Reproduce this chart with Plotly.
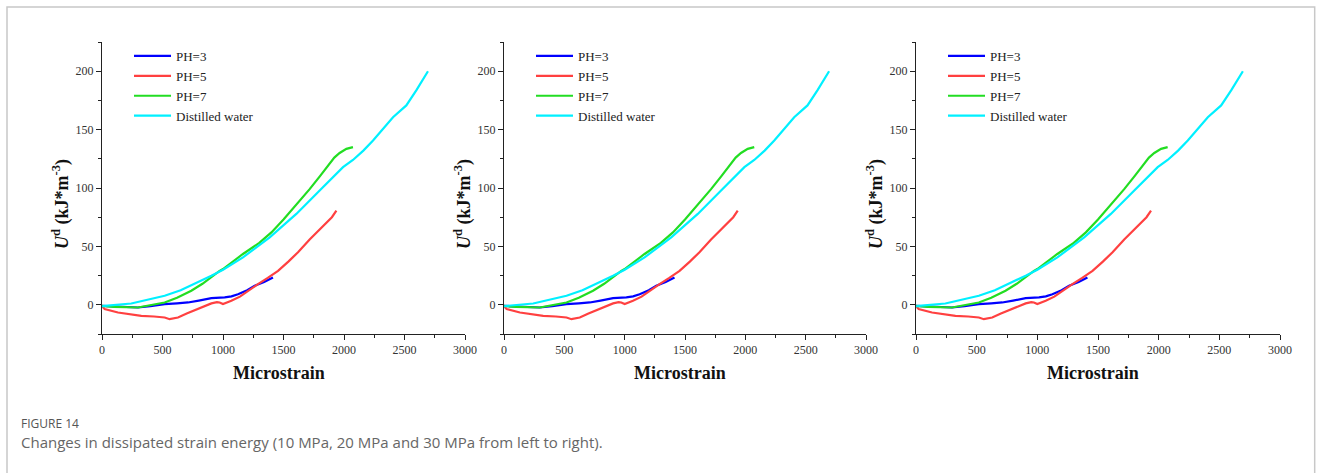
import plotly.graph_objects as go

# ---- data (same curves shown in all three panels) ----
strain_ph3 = [0, 150, 297, 400, 518, 620, 711, 800, 904, 1014, 1070, 1124, 1200, 1262, 1340, 1413]
ud_ph3 = [-1.0, -1.5, -2.3, -1.2, 0.6, 1.3, 2.0, 3.6, 5.7, 6.3, 7.2, 9.1, 12.5, 16.3, 19.5, 23.4]

strain_ph5 = [0, 22, 132, 230, 325, 430, 518, 559, 600, 628, 700, 793, 850, 904, 950, 972, 1000,
              1069, 1140, 1207, 1289, 1370, 1455, 1540, 1620, 1716, 1790, 1854, 1900, 1937]
ud_ph5 = [-1.0, -3.7, -6.6, -8.2, -9.4, -10.0, -10.9, -12.3, -11.5, -10.9, -7.5, -3.7, -1.0, 1.2,
          2.3, 2.0, 0.6, 3.4, 7.0, 12.0, 17.7, 23.0, 29.0, 37.0, 45.0, 56.0, 64.0, 70.0, 75.0, 80.6]

strain_ph7 = [0, 100, 297, 400, 518, 620, 738, 830, 904, 972, 1000, 1165, 1300, 1400, 1500, 1606,
              1716, 1800, 1870, 1920, 1964, 2020, 2074]
ud_ph7 = [-1.0, -1.8, -2.3, -0.5, 2.0, 6.0, 12.0, 18.0, 24.0, 29.0, 30.6, 43.5, 53.0, 62.0, 73.0,
          85.5, 99.0, 110.0, 119.5, 126.0, 130.0, 133.5, 135.0]

strain_dw = [0, 22, 242, 400, 518, 650, 793, 904, 1000, 1165, 1386, 1606, 1799, 1992, 2074, 2160,
             2240, 2330, 2405, 2515, 2600, 2694]
ud_dw = [-1.5, -0.9, 1.1, 4.5, 7.7, 12.5, 19.1, 24.9, 30.0, 40.6, 57.7, 77.8, 97.8, 117.8, 124.0,
         132.0, 140.6, 152.0, 160.6, 170.7, 184.0, 200.0]

series_names = ["PH=3", "PH=5", "PH=7", "Distilled water"]
series_colors = ["#0000ff", "#ff4040", "#22dd22", "#00f0ff"]
series_x = [strain_ph3, strain_ph5, strain_ph7, strain_dw]
series_y = [ud_ph3, ud_ph5, ud_ph7, ud_dw]

x_ticks = [0, 500, 1000, 1500, 2000, 2500, 3000]
y_ticks = [0, 50, 100, 150, 200]

W, H = 1328, 473
WE = 1313  # effective on-screen width of the drawn page
panels_px = [(99, 462), (501, 863), (913, 1277)]
y_top_px, y_bot_px = 42, 334

fig = go.Figure()
serif = "Liberation Serif, Times New Roman, serif"

layout_updates = {}
for i, (x0, x1) in enumerate(panels_px):
    ax = "" if i == 0 else str(i + 1)
    leg = "legend" if i == 0 else f"legend{i + 1}"
    for name, col, xs, ys in zip(series_names, series_colors, series_x, series_y):
        fig.add_trace(go.Scatter(x=xs, y=ys, mode="lines", name=name,
                                 line=dict(color=col, width=2.2),
                                 xaxis="x" + ax, yaxis="y" + ax, legend=leg))
    dom_x = [x0 / WE, x1 / WE]
    dom_y = [1 - y_bot_px / H, 1 - y_top_px / H]
    tf = dict(family=serif, size=12, color="#333")
    layout_updates["xaxis" + ax] = dict(
        domain=dom_x, range=[0, 3000], tickvals=x_ticks, anchor="y" + ax,
        showline=True, linecolor="#222", linewidth=1, ticks="outside", ticklen=5,
        tickcolor="#222", showgrid=False, zeroline=False, tickfont=tf,
        minor=dict(ticks="outside", ticklen=3, tickcolor="#222", dtick=250, tick0=0, showgrid=False))
    layout_updates["yaxis" + ax] = dict(
        domain=dom_y, range=[-25, 225], tickvals=y_ticks, anchor="x" + ax,
        showline=True, linecolor="#222", linewidth=1, ticks="outside", ticklen=5,
        tickcolor="#222", showgrid=False, zeroline=False, tickfont=tf,
        minor=dict(ticks="outside", ticklen=3, tickcolor="#222", dtick=25, tick0=0, showgrid=False))
    layout_updates[leg] = dict(
        x=(x0 + 27) / WE, y=1 - 41 / H, xanchor="left", yanchor="top",
        bgcolor="rgba(0,0,0,0)", font=dict(family=serif, size=13, color="#222"),
        tracegroupgap=0, itemwidth=37)
    # axis titles
    fig.add_annotation(text="<b>Microstrain</b>", x=(x0 + x1 - 10) / 2 / WE, y=1 - 373 / H,
                       xref="paper", yref="paper", showarrow=False,
                       xanchor="center", yanchor="middle",
                       font=dict(family=serif, size=18, color="#111"))
    fig.add_annotation(text="<b><i>U</i><sup>d</sup> (kJ*m<sup>-3</sup>)</b>",
                       x=(x0 - 41) / WE, y=1 - 204 / H, xref="paper", yref="paper",
                       xanchor="center", yanchor="middle",
                       showarrow=False, textangle=-90,
                       font=dict(family=serif, size=18, color="#111"))

fig.update_layout(**layout_updates)

# figure border and caption
fig.add_shape(type="rect", xref="paper", yref="paper", x0=4 / WE, x1=0.999, y0=-0.05, y1=1 - 7 / H,
              line=dict(color="#c8c8c8", width=1.5), fillcolor="rgba(0,0,0,0)", layer="below")
fig.add_annotation(text="FIGURE 14", x=16 / WE, y=1 - 423 / H, xref="paper", yref="paper",
                   xanchor="left", yanchor="middle", showarrow=False,
                   font=dict(family="Open Sans", size=12, color="#555"))
fig.add_annotation(text="Changes in dissipated strain energy (10 MPa, 20 MPa and 30 MPa from left to right).",
                   x=16 / WE, y=1 - 442 / H, xref="paper", yref="paper",
                   xanchor="left", yanchor="middle", showarrow=False,
                   font=dict(family="Open Sans", size=15, color="#666"))

fig.update_layout(width=W, height=H, autosize=False, margin=dict(l=0, r=0, t=0, b=0),
                  paper_bgcolor="white", plot_bgcolor="white", showlegend=True)
fig.write_html("out.html")
